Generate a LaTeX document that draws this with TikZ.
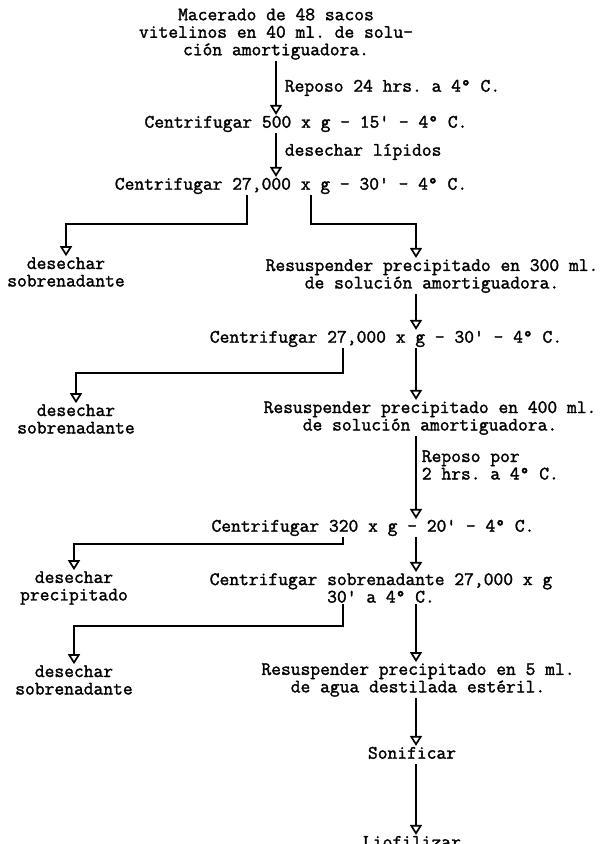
\documentclass[tikz,border=0pt]{standalone}
\usepackage{fontspec}
\setmonofont{Latin Modern Mono}[FakeBold=1.6]
\usepackage{tikz}
\usetikzlibrary{arrows.meta}
\tikzset{
  paso/.style={font=\ttfamily\fontsize{19}{17.5}\selectfont, inner sep=1pt,
               text height=11.6pt, text depth=4.2pt},
  bloque/.style={font=\ttfamily\fontsize{19}{17.5}\selectfont, inner sep=1pt, align=center},
  nota/.style={font=\ttfamily\fontsize{19}{17.5}\selectfont, inner sep=1pt, align=left, anchor=west},
  flecha/.style={line width=1.7pt, -{Triangle[open,width=12pt,length=10pt]}}
}

\begin{document}
\begin{tikzpicture}[x=1pt,y=-1pt]
\useasboundingbox (0,0) rectangle (609,844);
% columnas principales
\coordinate (ejeA) at (276,0);
\coordinate (ejeB) at (416,0);

% pasos
\node[bloque] (mac) at (276,34) {Macerado de 48 sacos\\vitelinos en 40 ml. de solu-\\ción amortiguadora.};
\node[paso] (c500) at (306,124) {Centrifugar 500 x g - 15' - 4° C.};
\node[paso] (c27a) at (291,186) {Centrifugar 27,000 x g - 30' - 4° C.};
\node[bloque] (des1) at (66,272) {desechar\\sobrenadante};
\node[bloque] (res300) at (432,276) {Resuspender precipitado en 300 ml.\\de solución amortiguadora.};
\node[paso] (c27b) at (386,339) {Centrifugar 27,000 x g - 30' - 4° C.};
\node[bloque] (des2) at (76,419) {desechar\\sobrenadante};
\node[bloque] (res400) at (430,418) {Resuspender precipitado en 400 ml.\\de solución amortiguadora.};
\node[paso] (c320) at (373,528) {Centrifugar 320 x g - 20' - 4° C.};
\node[bloque] (des3) at (74,588) {desechar\\precipitado};
\node[bloque] (csob) at (381,588) {Centrifugar sobrenadante 27,000 x g\\30' a 4° C.};
\node[bloque] (des4) at (74,680) {desechar\\sobrenadante};
\node[bloque] (res5) at (418,680) {Resuspender precipitado en 5 ml.\\de agua destilada estéril.};
\node[paso] (soni) at (412,755) {Sonificar};
\node[paso] (liof) at (412,844) {Liofilizar};

% flechas
\draw[flecha] (mac.south -| ejeA) -- node[nota, xshift=7pt] (rep1) {Reposo 24 hrs. a 4° C.} (c500.north -| ejeA);
\draw[flecha] (c500.south -| ejeA) -- node[nota, pos=0.43, xshift=7pt] (lip) {desechar lípidos} (c27a.north -| ejeA);

% ramas
\draw[flecha] ([xshift=-44pt]c27a.south) -- ++(0,29) -| (des1.north);
\draw[flecha] ([xshift=20pt]c27a.south) -- ++(0,29) -| (res300.north -| ejeB);
\draw[flecha] (res300.south -| ejeB) -- (c27b.north -| ejeB);
\draw[flecha] ([xshift=-43pt]c27b.south) -- ++(0,25) -| (des2.north);
\draw[flecha] (c27b.south -| ejeB) -- (res400.north -| ejeB);
\draw[flecha] (res400.south -| ejeB) -- node[nota, pos=0.35, xshift=4pt] (rep2) {Reposo por\\2 hrs. a 4° C.} (c320.north -| ejeB);
\draw[flecha] ([xshift=-30pt]c320.south) -- ++(0,7) -| (des3.north);
\draw[flecha] (c320.south -| ejeB) -- (csob.north -| ejeB);
\draw[flecha] ([xshift=-38pt]csob.south) -- ++(0,22) -| (des4.north);
\draw[flecha] (csob.south -| ejeB) -- (res5.north -| ejeB);
\draw[flecha] (res5.south -| ejeB) -- (soni.north -| ejeB);
\draw[flecha] (soni.south -| ejeB) -- (liof.north -| ejeB);
\end{tikzpicture}
\end{document}
